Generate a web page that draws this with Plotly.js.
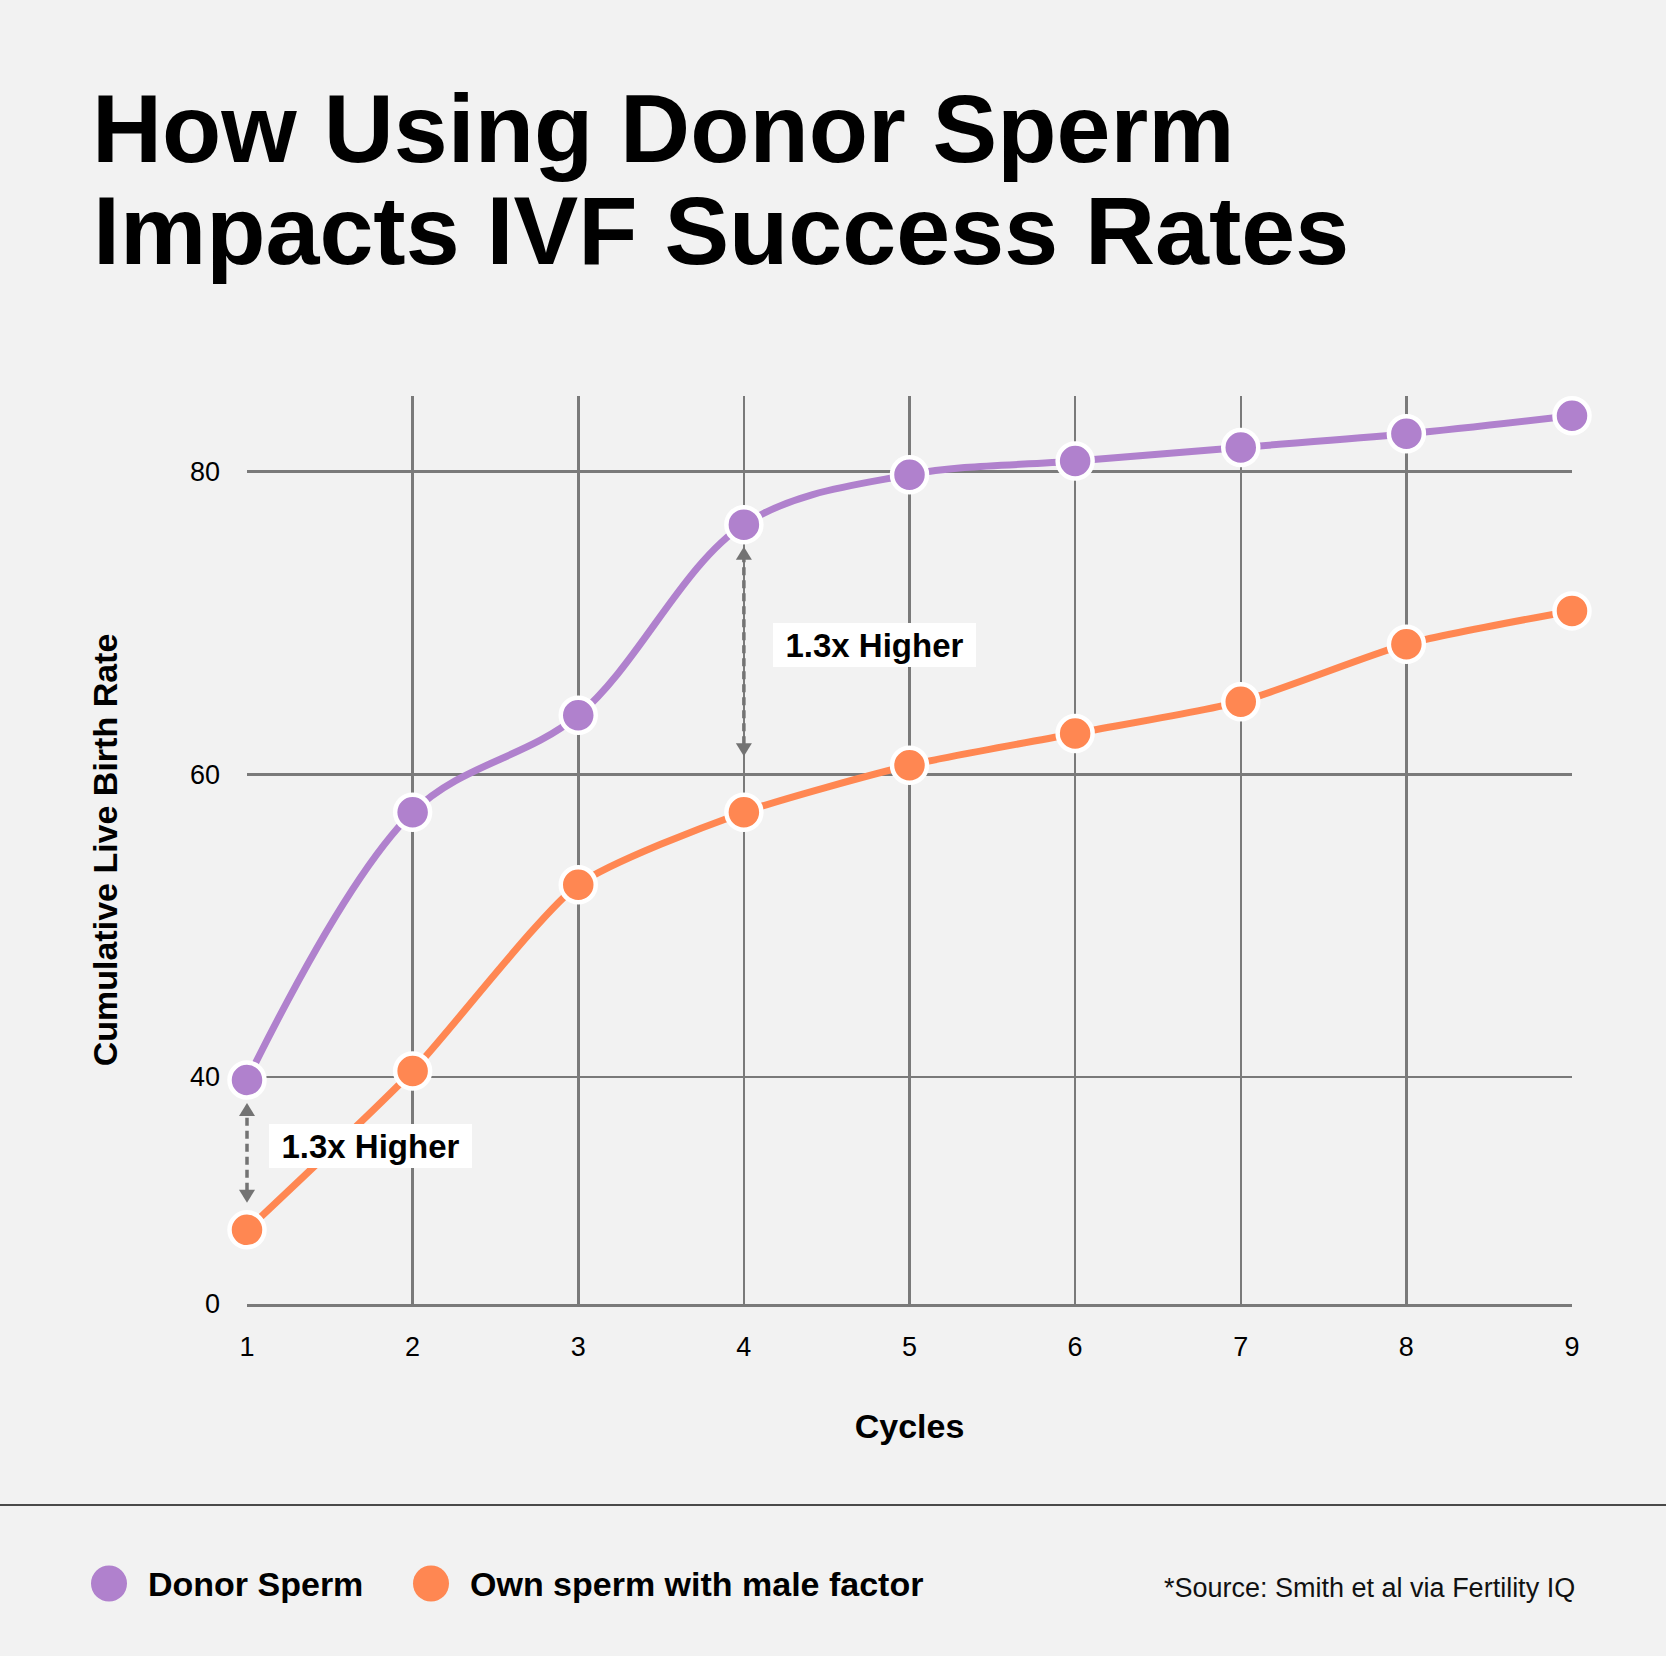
<!DOCTYPE html>
<html>
<head>
<meta charset="utf-8">
<script src="https://cdn.plot.ly/plotly-3.0.1.min.js"></script>
<style>
  html, body { margin: 0; padding: 0; background: #f2f2f2; }
  #chart { width: 1666px; height: 1656px; }
</style>
</head>
<body>
<div id="chart"></div>
<script>
// ---- Data ----
const cycles = [1, 2, 3, 4, 5, 6, 7, 8, 9];
const donorSperm = [39.8, 57.5, 63.9, 76.5, 79.8, 80.7, 81.6, 82.5, 83.7];
const ownSperm = [29.9, 40.4, 52.7, 57.5, 60.6, 62.7, 64.8, 68.6, 70.8];
const seriesNames = ['Donor Sperm', 'Own sperm with male factor'];
const yTickVals = [25, 40, 60, 80];
const yTickText = ['0', '40', '60', '80'];
const annotationText = '1.3x Higher';
const sourceText = '*Source: Smith et al via Fertility IQ';
const titleLines = ['How Using Donor Sperm', 'Impacts IVF Success Rates'];

// ---- Layout constants ----
const W = 1666, H = 1656;
const M = { l: 247, r: 94, t: 396, b: 352 };
const plotW = W - M.l - M.r;
const plotH = H - M.t - M.b;
const xRange = [1, 9];
const yRange = [25, 85];
const ppu = plotH / (yRange[1] - yRange[0]);
const px = v => (v - M.l) / plotW;        // page x -> paper x
const py = v => (H - M.b - v) / plotH;    // page y -> paper y
const dx = v => (v - xRange[0]) / (xRange[1] - xRange[0]);  // data x -> paper x
const dy = v => (v - yRange[0]) / (yRange[1] - yRange[0]);  // data y -> paper y

const FONT = 'Liberation Sans, Arial, Helvetica, sans-serif';
const PURPLE = '#b081cd';
const ORANGE = '#ff8752';
const GRID = '#7a7a7a';
const ARROW = '#737373';

const traces = [
  {
    x: cycles, y: donorSperm, name: seriesNames[0], type: 'scatter', mode: 'lines+markers',
    line: { color: PURPLE, width: 7, shape: 'spline', smoothing: 1 },
    marker: { color: PURPLE, size: 35, line: { color: '#ffffff', width: 4.5 } },
    cliponaxis: false, showlegend: false, hoverinfo: 'x+y'
  },
  {
    x: cycles, y: ownSperm, name: seriesNames[1], type: 'scatter', mode: 'lines+markers',
    line: { color: ORANGE, width: 7, shape: 'spline', smoothing: 0.6 },
    marker: { color: ORANGE, size: 35, line: { color: '#ffffff', width: 4.5 } },
    cliponaxis: false, showlegend: false, hoverinfo: 'x+y'
  }
];

// Double-headed dashed arrows between the two series (paper refs so nothing is clipped)
function arrowShapes(i, gapTop, gapBottom) {
  const xv = dx(cycles[i]);
  const top = dy(donorSperm[i]) - gapTop / plotH;
  const bottom = dy(ownSperm[i]) + gapBottom / plotH;
  const head = 13, hw = 8;
  return [
    { type: 'line', xref: 'paper', yref: 'paper', x0: xv, x1: xv,
      y0: bottom + (head - 1) / plotH, y1: top - (head - 1) / plotH,
      line: { color: ARROW, width: 3.5, dash: '8px,5px' } },
    { type: 'path', xref: 'paper', yref: 'paper', xsizemode: 'pixel', ysizemode: 'pixel',
      xanchor: xv, yanchor: top, path: 'M0,0 L-' + hw + ',-' + head + ' L' + hw + ',-' + head + ' Z',
      fillcolor: ARROW, line: { width: 0 } },
    { type: 'path', xref: 'paper', yref: 'paper', xsizemode: 'pixel', ysizemode: 'pixel',
      xanchor: xv, yanchor: bottom, path: 'M0,0 L-' + hw + ',' + head + ' L' + hw + ',' + head + ' Z',
      fillcolor: ARROW, line: { width: 0 } }
  ];
}

const legendY = py(1583.5);
const shapes = [
  ...arrowShapes(0, 23, 27),
  ...arrowShapes(3, 22, 56),
  // separator line
  { type: 'line', xref: 'paper', yref: 'paper', x0: px(0), x1: px(W), y0: py(1505), y1: py(1505),
    line: { color: '#4a4a4a', width: 2 } },
  // legend dots
  { type: 'circle', xref: 'paper', yref: 'paper', xsizemode: 'pixel', ysizemode: 'pixel',
    xanchor: px(109), yanchor: legendY, x0: -18, x1: 18, y0: -18, y1: 18,
    fillcolor: PURPLE, line: { width: 0 } },
  { type: 'circle', xref: 'paper', yref: 'paper', xsizemode: 'pixel', ysizemode: 'pixel',
    xanchor: px(431), yanchor: legendY, x0: -18, x1: 18, y0: -18, y1: 18,
    fillcolor: ORANGE, line: { width: 0 } }
];

const annotations = [
  { text: titleLines[1], xref: 'paper', yref: 'paper', x: px(92), y: py(230),
    xanchor: 'left', yanchor: 'middle', showarrow: false, borderpad: 0,
    font: { family: FONT, size: 97, color: '#000', weight: 700 } },
  { text: annotationText, xref: 'x', yref: 'y', x: 1.746, y: 35.45,
    xanchor: 'center', yanchor: 'middle', showarrow: false,
    bgcolor: '#ffffff', borderpad: 0, borderwidth: 0, width: 203, height: 44,
    font: { family: FONT, size: 33, color: '#000', weight: 700 } },
  { text: annotationText, xref: 'x', yref: 'y', x: 4.786, y: 68.54,
    xanchor: 'center', yanchor: 'middle', showarrow: false,
    bgcolor: '#ffffff', borderpad: 0, borderwidth: 0, width: 203, height: 44,
    font: { family: FONT, size: 33, color: '#000', weight: 700 } },
  { text: seriesNames[0], xref: 'paper', yref: 'paper', x: px(146), y: legendY,
    xanchor: 'left', yanchor: 'middle', showarrow: false,
    font: { family: FONT, size: 34, color: '#000', weight: 700 } },
  { text: seriesNames[1], xref: 'paper', yref: 'paper', x: px(468), y: legendY,
    xanchor: 'left', yanchor: 'middle', showarrow: false,
    font: { family: FONT, size: 34, color: '#000', weight: 700 } },
  { text: sourceText, xref: 'paper', yref: 'paper', x: px(1577), y: py(1588),
    xanchor: 'right', yanchor: 'middle', showarrow: false,
    font: { family: FONT, size: 27, color: '#111' } }
];

const layout = {
  width: W, height: H,
  margin: M,
  paper_bgcolor: '#f2f2f2', plot_bgcolor: '#f2f2f2',
  showlegend: false,
  font: { family: FONT, color: '#111' },
  title: {
    text: titleLines[0], xref: 'container', yref: 'container',
    x: 92 / W, xanchor: 'left', y: 1 - 128 / H, yanchor: 'middle',
    font: { family: FONT, size: 97, color: '#000', weight: 700 }
  },
  xaxis: {
    range: xRange, tickvals: cycles, ticktext: cycles.map(String),
    showgrid: true, gridcolor: GRID, gridwidth: 2.5,
    showline: true, linecolor: GRID, linewidth: 2.5,
    zeroline: false, ticks: '', ticklabelstandoff: 17,
    tickfont: { family: FONT, size: 27, color: '#000' },
    title: { text: 'Cycles', standoff: 54, font: { family: FONT, size: 34, color: '#000', weight: 700 } },
    automargin: false, fixedrange: true
  },
  yaxis: {
    range: yRange, tickvals: yTickVals, ticktext: yTickText,
    showgrid: true, gridcolor: GRID, gridwidth: 2.5,
    showline: false, zeroline: false, ticks: '', ticklabelstandoff: 26,
    tickfont: { family: FONT, size: 27, color: '#000' },
    title: { text: 'Cumulative Live Birth Rate', standoff: 62, font: { family: FONT, size: 34, color: '#000', weight: 700 } },
    automargin: false, fixedrange: true
  },
  shapes: shapes,
  annotations: annotations
};

Plotly.newPlot('chart', traces, layout, { displayModeBar: false, staticPlot: true });
</script>
</body>
</html>
